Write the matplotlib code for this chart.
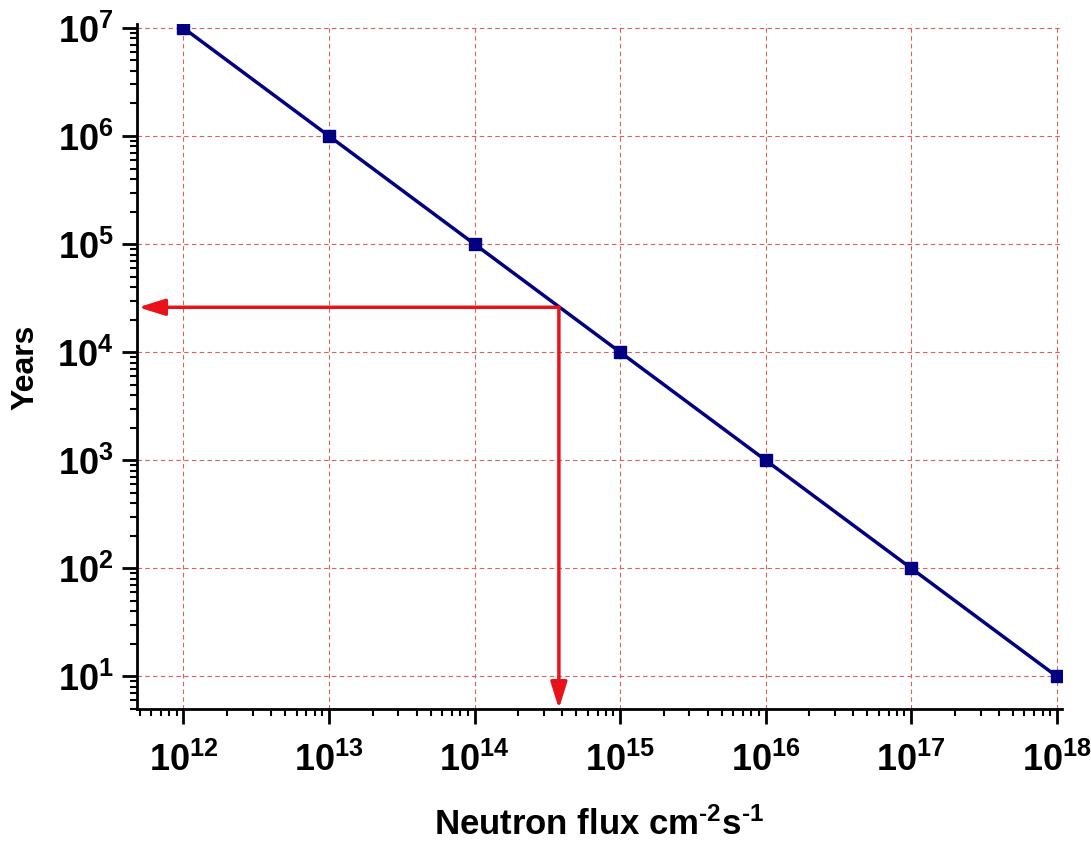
import numpy as np
import matplotlib.pyplot as plt
from matplotlib.ticker import LogLocator, NullFormatter

plt.rcParams["font.family"] = ["Liberation Sans", "DejaVu Sans"]
plt.rcParams["font.weight"] = "bold"
plt.rcParams["mathtext.fontset"] = "custom"
plt.rcParams["mathtext.rm"] = "Liberation Sans:bold"
plt.rcParams["mathtext.bf"] = "Liberation Sans:bold"
plt.rcParams["mathtext.it"] = "Liberation Sans:bold"

# data
flux = [1e12, 1e13, 1e14, 1e15, 1e16, 1e17, 1e18]
years = [1e7, 1e6, 1e5, 1e4, 1e3, 1e2, 1e1]

# marked point (red arrows)
mark_flux = 3.8e14
mark_years = 2.6e4

fig = plt.figure(figsize=(10.91, 8.45), dpi=100)
ax = fig.add_axes([0.1256, 0.160, 0.8474, 0.810])

ax.plot(flux, years, color="#000080", lw=2.5, marker="s", markersize=9, zorder=3)

ax.set_xscale("log")
ax.set_yscale("log")
ax.set_xlim(4.8e11, 1.08e18)
ax.set_ylim(5.0, 1.08e7)

# arrows from the line to the axes
arrow_style = dict(arrowstyle="-|>,head_length=0.8,head_width=0.25", color="#e8131a",
                   lw=2.5, mutation_scale=20, shrinkA=0, shrinkB=0)
ax.annotate("", xy=(ax.get_xlim()[0] * 1.02, mark_years), xytext=(mark_flux, mark_years),
            arrowprops=arrow_style, zorder=4)
ax.annotate("", xy=(mark_flux, ax.get_ylim()[0]), xytext=(mark_flux, mark_years),
            arrowprops=arrow_style, zorder=4)

ax.xaxis.set_major_locator(LogLocator(base=10, numticks=20))
ax.yaxis.set_major_locator(LogLocator(base=10, numticks=20))
ax.xaxis.set_minor_locator(LogLocator(base=10, subs=np.arange(2, 10), numticks=20))
ax.yaxis.set_minor_locator(LogLocator(base=10, subs=np.arange(2, 10), numticks=20))
ax.xaxis.set_minor_formatter(NullFormatter())
ax.yaxis.set_minor_formatter(NullFormatter())

ax.grid(True, which="major", color="#d96060", lw=0.8, linestyle=(0, (4, 3)))

for side in ["top", "right"]:
    ax.spines[side].set_visible(False)
for side in ["left", "bottom"]:
    ax.spines[side].set_linewidth(2)

ax.tick_params(which="major", direction="out", length=11, width=2, labelsize=26)
ax.tick_params(axis="x", which="major", pad=13)
ax.tick_params(axis="y", which="major", pad=6)
ax.tick_params(which="minor", direction="out", length=5, width=1.5)

ax.set_xlabel("Neutron flux cm$^{\\text{-2}}$s$^{\\text{-1}}$", fontsize=25,
              fontweight="bold", labelpad=20)
ax.set_ylabel("Years", fontsize=23, fontweight="bold", labelpad=12)

fig.savefig("out.png", dpi=100)
